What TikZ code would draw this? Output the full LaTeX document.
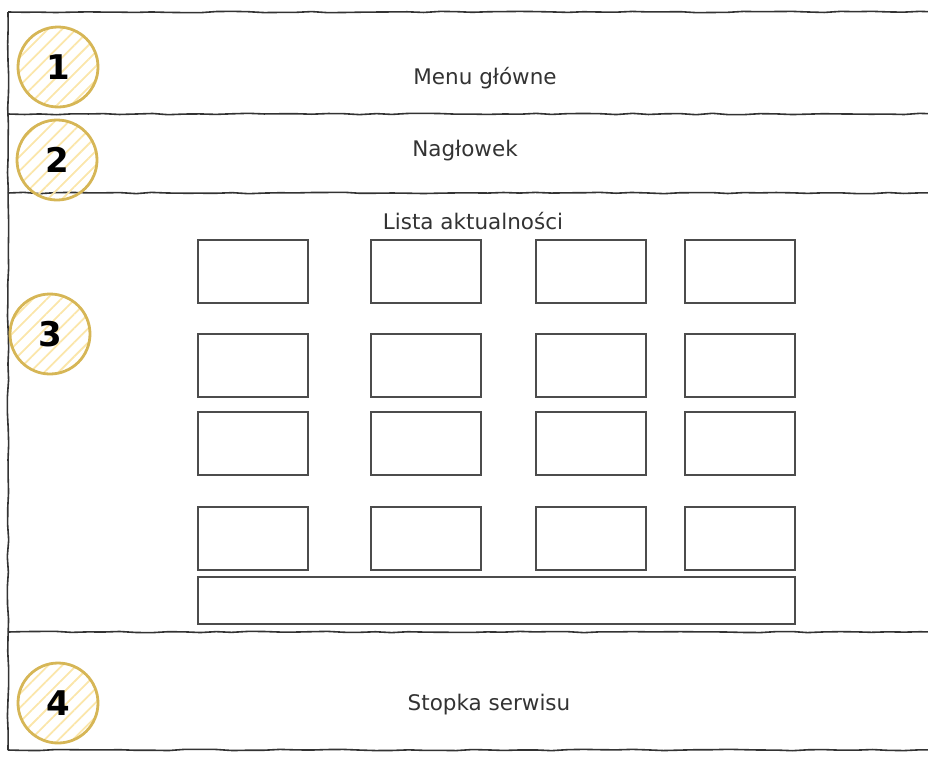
\documentclass[tikz,border=0pt]{standalone}
\usepackage{fontspec}
\setmainfont{DejaVu Sans}
\usepackage{tikz}
\usetikzlibrary{positioning,patterns.meta,decorations.pathmorphing}
\definecolor{sketchgold}{HTML}{D6B656}
\definecolor{hatchgold}{HTML}{FBE6AA}
\definecolor{inkgray}{HTML}{333333}
\tikzset{
  sketch/.style={draw=black!80, line width=1.6pt, decorate,
                 decoration={random steps, segment length=16pt, amplitude=0.7pt}},
  tile/.style={rectangle, draw=black!70, line width=1.4pt, inner sep=0pt,
               minimum width=110pt, minimum height=63pt},
  badge/.style={circle, draw=sketchgold, line width=2.8pt, inner sep=0pt, minimum size=80pt,
                pattern={Lines[angle=45, distance=10pt, line width=1.8pt]}, pattern color=hatchgold,
                text=black, font=\fontsize{34}{34}\selectfont\bfseries},
  areatext/.style={text=inkgray, font=\fontsize{21.5}{21.5}\selectfont},
}

\begin{document}
\begin{tikzpicture}[x=1pt, y=-1pt]
\useasboundingbox (0,0) rectangle (928,756);
\pgfmathsetseed{7}
% page frame and section dividers
\draw[sketch] (8,12) -- (8,750);
\foreach \yy in {12,114,193,632,750} \draw[sketch] (8,\yy) -- (940,\yy);
% numbered sections
\node[badge] (b1) at (58,67) {1};
\node[badge] (b2) at (57,160) {2};
\node[badge] (b3) at (50,334) {3};
\node[badge] (b4) at (58,703) {4};
\node[areatext] (menu) at (485,78) {Menu główne};
\node[areatext] (head) at (465,151) {Nagłowek};
\node[areatext] (news) at (473,221) {Lista aktualności};
\node[areatext] (foot) at (489,705) {Stopka serwisu};
% news tiles
\foreach \xx [count=\i] in {253,426,591,740}
  \foreach \yy [count=\j] in {271.5,365.5,443.5,538.5}
    \node[tile] (t\j\i) at (\xx,\yy) {};
\node[tile, minimum width=597pt, minimum height=47pt] (pager) at (496.5,600.5) {};
\end{tikzpicture}
\end{document}
